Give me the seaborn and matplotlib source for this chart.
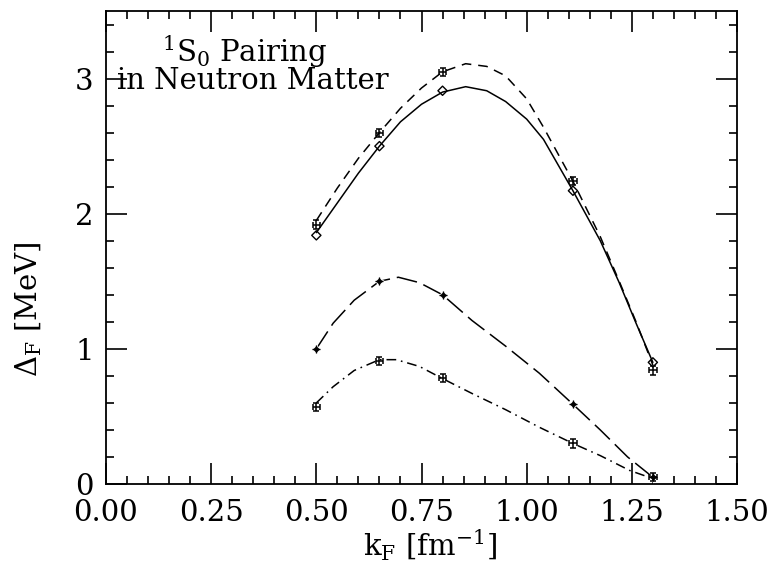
import matplotlib
matplotlib.use("Agg")
import matplotlib.pyplot as plt
import seaborn as sns
import pandas as pd
from matplotlib.ticker import MultipleLocator, FormatStrFormatter

# ---- data ----
kf_points = [0.50, 0.65, 0.80, 1.11, 1.30]
gap_diamond = [1.84, 2.50, 2.91, 2.17, 0.90]
gap_cross_upper = [1.92, 2.60, 3.05, 2.24, 0.84]
gap_star = [1.00, 1.50, 1.40, 0.59, 0.05]
gap_cross_lower = [0.57, 0.91, 0.785, 0.30, 0.05]
xerr_cross = 0.009
yerr_cross = 0.03

solid_x = [0.50, 0.55, 0.60, 0.65, 0.70, 0.75, 0.80, 0.855, 0.905, 0.95, 1.00, 1.04, 1.11, 1.175, 1.22, 1.26, 1.30]
solid_y = [1.86, 2.08, 2.30, 2.50, 2.68, 2.81, 2.90, 2.94, 2.91, 2.83, 2.70, 2.55, 2.17, 1.80, 1.49, 1.19, 0.90]
dashed_x = [0.50, 0.55, 0.60, 0.65, 0.70, 0.75, 0.80, 0.855, 0.905, 0.95, 1.00, 1.04, 1.11, 1.175, 1.22, 1.26, 1.30]
dashed_y = [1.95, 2.19, 2.41, 2.60, 2.78, 2.93, 3.05, 3.11, 3.09, 3.02, 2.85, 2.64, 2.24, 1.83, 1.50, 1.20, 0.88]
longdash_x = [0.50, 0.54, 0.59, 0.65, 0.695, 0.745, 0.80, 0.87, 0.95, 1.03, 1.11, 1.175, 1.24, 1.30]
longdash_y = [1.00, 1.19, 1.36, 1.50, 1.53, 1.49, 1.40, 1.21, 1.02, 0.82, 0.59, 0.40, 0.20, 0.05]
dashdot_x = [0.50, 0.54, 0.59, 0.65, 0.69, 0.745, 0.80, 0.87, 0.95, 1.03, 1.11, 1.175, 1.245, 1.30]
dashdot_y = [0.60, 0.72, 0.84, 0.92, 0.92, 0.87, 0.78, 0.67, 0.55, 0.42, 0.30, 0.21, 0.10, 0.04]

x_ticks = [0.00, 0.25, 0.50, 0.75, 1.00, 1.25, 1.50]
y_ticks = [0, 1, 2, 3]

sns.set_theme(style="ticks")
FS = 21
plt.rcParams.update({
    "font.family": ["DejaVu Serif"],
    "mathtext.fontset": "dejavuserif",
    "font.size": FS,
    "xtick.labelsize": FS,
    "ytick.labelsize": FS,
    "axes.labelsize": FS,
    "text.color": "black",
    "axes.labelcolor": "black",
    "xtick.color": "black",
    "ytick.color": "black",
    "lines.scale_dashes": False,
    "axes.linewidth": 1.3,
})

fig = plt.figure(figsize=(7.69, 5.67), dpi=100)
ax = fig.add_axes([106 / 769, 1 - 484 / 567, (737 - 106) / 769, (484 - 11) / 567])

lw = 1.1
sns.lineplot(x=solid_x, y=solid_y, ax=ax, color="black", lw=lw, sort=False, estimator=None)
sns.lineplot(x=dashed_x, y=dashed_y, ax=ax, color="black", lw=lw, sort=False, estimator=None,
             linestyle=(0, (7, 5)))
sns.lineplot(x=longdash_x, y=longdash_y, ax=ax, color="black", lw=lw, sort=False, estimator=None,
             linestyle=(0, (15, 5)))
sns.lineplot(x=dashdot_x, y=dashdot_y, ax=ax, color="black", lw=lw, sort=False, estimator=None,
             linestyle=(0, (7, 3.5, 1.2, 3.5)))

sns.scatterplot(x=kf_points, y=gap_diamond, ax=ax, marker="D", s=22,
                facecolor="none", edgecolor="black", linewidth=1.0, zorder=5)
sns.scatterplot(x=kf_points, y=gap_star, ax=ax, marker=(4, 1, 0), s=60,
                color="black", linewidth=0.6, zorder=5)
for ys in (gap_cross_upper, gap_cross_lower):
    ax.errorbar(kf_points, ys, xerr=xerr_cross, yerr=yerr_cross, fmt="none",
                ecolor="black", elinewidth=1.1, capsize=2.5, capthick=1.1, zorder=5)

ax.set_xlim(0, 1.5)
ax.set_ylim(0, 3.5)
ax.set_xticks(x_ticks)
ax.set_yticks(y_ticks)
ax.xaxis.set_major_formatter(FormatStrFormatter("%.2f"))
ax.xaxis.set_minor_locator(MultipleLocator(0.05))
ax.yaxis.set_minor_locator(MultipleLocator(0.2))
ax.tick_params(which="both", direction="in", top=True, right=True, color="black", width=1.2)
ax.tick_params(which="major", length=15)
ax.tick_params(axis="x", which="major", pad=11)
ax.tick_params(axis="y", which="major", pad=9)
ax.tick_params(which="minor", length=5.5)
for lab in ax.get_yticklabels():
    lab.set_verticalalignment("center_baseline")
for sp in ax.spines.values():
    sp.set_color("black")
    sp.set_visible(True)

ax.set_xlabel(r"k$_{\rm F}$ [fm$^{-1}$]")
ax.set_ylabel(r"$\Delta_{\rm F}$ [MeV]")
ax.xaxis.set_label_coords(0.513, -0.093)
ax.yaxis.set_label_coords(-0.098, 0.37)

ax.text(0.133, 3.12, r"$^1$S$_0$ Pairing", ha="left", va="baseline")
ax.text(0.026, 2.92, "in Neutron Matter", ha="left", va="baseline")

fig.savefig("out.png", dpi=100)
